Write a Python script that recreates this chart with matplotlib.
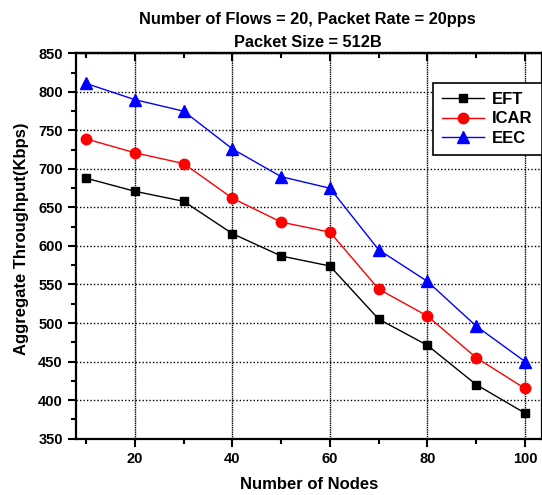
import numpy as np
import matplotlib
matplotlib.use('Agg')
import matplotlib.pyplot as plt

plt.rcParams['font.family'] = ['Liberation Sans', 'DejaVu Sans']
plt.rcParams['font.weight'] = 'bold'

# Data
nodes = [10, 20, 30, 40, 50, 60, 70, 80, 90, 100]
eft = [688, 671, 658, 616, 587, 574, 505, 471, 420, 383]
icar = [739, 721, 707, 662, 631, 618, 544, 509, 455, 415]
eec = [811, 790, 775, 726, 690, 675, 595, 554, 496, 450]

f = plt.figure(figsize=(5.42, 4.95), dpi=100)
ax = f.add_axes([0.1402, 0.1141, 0.8598, 0.7779])

ax.plot(nodes, eft, color='black', marker='s', markersize=6, linewidth=1, label='EFT')
ax.plot(nodes, icar, color='red', marker='o', markersize=7.5, linewidth=1, label='ICAR')
ax.plot(nodes, eec, color='blue', marker='^', markersize=8, linewidth=1, label='EEC')

ax.set_xlim(7.9, 103.5)
ax.set_ylim(350, 850)
ax.set_xticks([20, 40, 60, 80, 100])
ax.set_xticks([10, 30, 50, 70, 90], minor=True)
ax.set_yticks(np.arange(350, 851, 50))
ax.set_yticks(np.arange(375, 850, 50), minor=True)

ax.grid(which='major', axis='y', color='black', linestyle=(0, (1, 1.5)), linewidth=1)
ax.grid(which='major', axis='x', color='black', linestyle=(0, (1, 0.6)), linewidth=1)

ax.tick_params(which='major', direction='out', length=6, width=1.5, labelsize=10.5)
ax.tick_params(which='minor', direction='out', length=3.5, width=1.5)
for s in ax.spines.values():
    s.set_linewidth(1.6)

# mirrored ticks on top pointing inward
top = ax.secondary_xaxis('top')
top.set_xticks([20, 40, 60, 80, 100])
top.set_xticks([10, 30, 50, 70, 90], minor=True)
top.tick_params(which='major', direction='in', length=6, width=1.5, labeltop=False)
top.tick_params(which='minor', direction='in', length=3.5, width=1.5)
top.spines['top'].set_linewidth(1.6)

ax.set_xlabel('Number of Nodes', fontsize=12, fontweight='bold', labelpad=8)
ax.set_ylabel('Aggregate Throughput(Kbps)', fontsize=12, fontweight='bold', labelpad=8)
ax.yaxis.set_label_coords(-0.101, 0.52)
f.text(0.568, 0.960, 'Number of Flows = 20, Packet Rate = 20pps', ha='center', va='center',
       fontsize=11.8, fontweight='bold')
f.text(0.568, 0.915, 'Packet Size = 512B', ha='center', va='center',
       fontsize=11.8, fontweight='bold')

leg = ax.legend(loc='upper right', bbox_to_anchor=(1.0, 0.923), fontsize=12,
                frameon=True, fancybox=False, edgecolor='black', handlelength=2.5,
                borderpad=0.55, labelspacing=0.25, handletextpad=0.5, borderaxespad=0)
leg.get_frame().set_linewidth(1.2)
leg.get_frame().set_alpha(1)

plt.savefig('out.png', dpi=100)
